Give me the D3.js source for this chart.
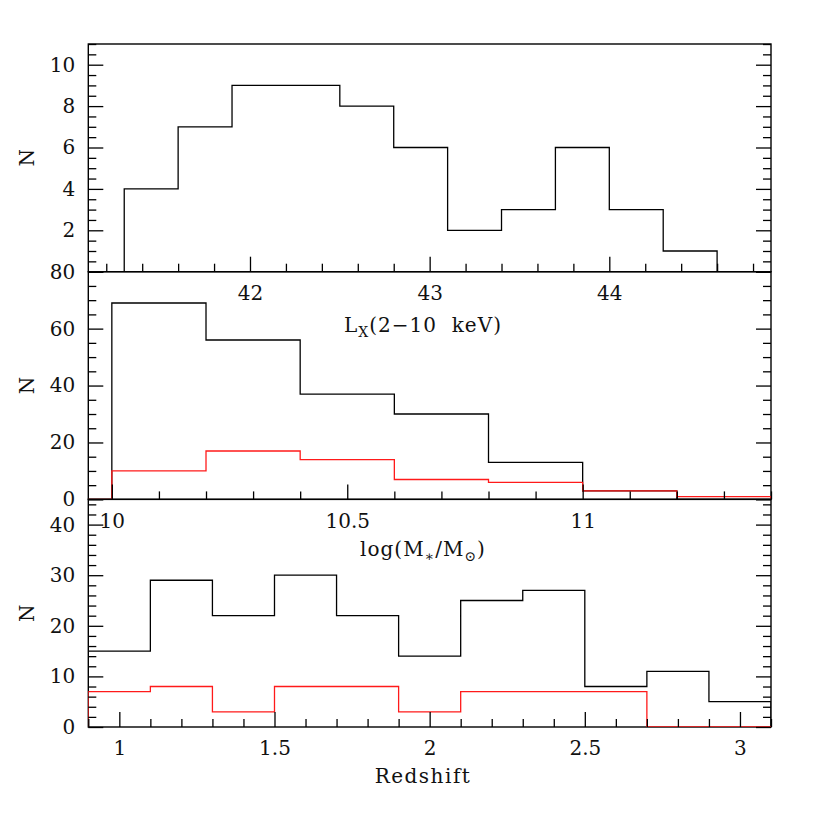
<!DOCTYPE html>
<html><head><meta charset="utf-8">
<script src="https://cdn.jsdelivr.net/npm/d3@7"></script>
<style>
html,body{margin:0;padding:0;background:#fff;}
text{font-family:"DejaVu Serif","Liberation Serif",serif;fill:#111;}
</style></head>
<body><svg id="c" width="814" height="814"></svg>
<script>
// ---- data ----
const lxEdges = [41.3,41.6,41.9,42.2,42.5,42.8,43.1,43.4,43.7,44.0,44.3,44.6];
const lxCounts = [4,7,9,9,8,6,2,3,6,3,1];
const lxTicks = [42,43,44];
const lxLabels = ["42","43","44"];

const massEdges = [9.8,10.0,10.2,10.4,10.6,10.8,11.0,11.2,11.4];
const massAll = [0,69,56,37,30,13,3,0];
const massRed = [0,10,17,14,7,6,3,1];
const massTicks = [10,10.5,11];
const massLabels = ["10","10.5","11"];

const zEdges = [0.9,1.1,1.3,1.5,1.7,1.9,2.1,2.3,2.5,2.7,2.9,3.1];
const zAll = [15,29,22,30,22,14,25,27,8,11,5];
const zRed = [7,8,3,8,8,3,7,7,7,0,0];
const zTicks = [1,1.5,2,2.5,3];
const zLabels = ["1","1.5","2","2.5","3"];

// top panel's "0" coincides with the middle panel's "80" (shows as "80")
const nTicksTop = [0,2,4,6,8,10];
const nLabelsTop = ["","2","4","6","8","10"];
const nTicksMid = [0,20,40,60,80];
const nLabelsMid = ["0","20","40","60","80"];
const nTicksBot = [0,10,20,30,40];
const nLabelsBot = ["0","10","20","30","40"];

// ---- layout ----
const svg = d3.select("#c");
svg.append("rect").attr("width",814).attr("height",814).attr("fill","#fff");
const L = 88.3, R = 771, PH = 227.7;
const tops = [44, 271.7, 499.3];

const panels = [
  {top:tops[0], xd:[41.1,44.9], yd:[0,11], edges:lxEdges, series:[{v:lxCounts,c:"#000"}],
   xt:lxTicks, xl:lxLabels, xminor:0.2, yt:nTicksTop, yl:nLabelsTop, yminor:0.5, title:"lx"},
  {top:tops[1], xd:[9.95,11.4], yd:[0,80], edges:massEdges, series:[{v:massAll,c:"#000"},{v:massRed,c:"#ff1a1a"}],
   xt:massTicks, xl:massLabels, xminor:0.1, yt:nTicksMid, yl:nLabelsMid, yminor:5, title:"mass"},
  {top:tops[2], xd:[0.9,3.1], yd:[0,45], edges:zEdges, series:[{v:zAll,c:"#000"},{v:zRed,c:"#ff1a1a"}],
   xt:zTicks, xl:zLabels, xminor:0.1, yt:nTicksBot, yl:nLabelsBot, yminor:2, title:"z"}
];

panels.forEach((p,i)=>{
  const x = d3.scaleLinear().domain(p.xd).range([L,R]);
  const y = d3.scaleLinear().domain(p.yd).range([p.top+PH,p.top]);
  const g = svg.append("g");
  const cid = "clip"+i;
  svg.append("clipPath").attr("id",cid).append("rect")
    .attr("x",L).attr("y",p.top-2).attr("width",R-L).attr("height",PH+2);

  // frame
  g.append("rect").attr("x",L).attr("y",p.top).attr("width",R-L).attr("height",PH)
    .attr("fill","none").attr("stroke","#000").attr("stroke-width",1.4);

  // histograms
  const line = d3.line().x(d=>x(d[0])).y(d=>y(d[1]));
  p.series.forEach(s=>{
    const pts=[[p.edges[0],0]];
    s.v.forEach((v,k)=>{pts.push([p.edges[k],v]);pts.push([p.edges[k+1],v]);});
    pts.push([p.edges[p.edges.length-1],0]);
    g.append("path").attr("d",line(pts)).attr("fill","none")
      .attr("stroke",s.c).attr("stroke-width",1.3).attr("clip-path","url(#"+cid+")");
  });

  const eps=1e-9;
  const xminor = d3.range(Math.ceil(p.xd[0]/p.xminor-eps)*p.xminor, p.xd[1]+eps, p.xminor)
     .filter(v=>!p.xt.some(t=>Math.abs(t-v)<1e-6));
  const yminor = d3.range(p.yd[0], p.yd[1]+eps, p.yminor)
     .filter(v=>!p.yt.some(t=>Math.abs(t-v)<1e-6));

  // bottom ticks
  const bot = p.top+PH;
  g.append("g").attr("transform",`translate(0,${bot})`)
    .call(d3.axisBottom(x).tickValues(xminor).tickSize(-8).tickFormat(""))
    .call(a=>a.select(".domain").remove()).selectAll("line").attr("stroke-width",1.3);
  g.append("g").attr("transform",`translate(0,${bot})`)
    .call(d3.axisBottom(x).tickValues(p.xt).tickSize(-15).tickPadding(14)
      .tickFormat((d,k)=>p.xl[k]))
    .call(a=>a.select(".domain").remove())
    .call(a=>a.selectAll("line").attr("stroke-width",1.3))
    .call(a=>a.selectAll("text").attr("font-size",20).attr("fill","#111")
      .style("font-family",'"DejaVu Serif",serif'));

  // left ticks
  g.append("g").attr("transform",`translate(${L},0)`)
    .call(d3.axisLeft(y).tickValues(yminor).tickSize(-8).tickFormat(""))
    .call(a=>a.select(".domain").remove()).selectAll("line").attr("stroke-width",1.3);
  g.append("g").attr("transform",`translate(${L},0)`)
    .call(d3.axisLeft(y).tickValues(p.yt).tickSize(-15).tickPadding(13).tickFormat((d,k)=>p.yl[k]))
    .call(a=>a.select(".domain").remove())
    .call(a=>a.selectAll("line").attr("stroke-width",1.3))
    .call(a=>a.selectAll("text").attr("font-size",20).attr("fill","#111")
      .style("font-family",'"DejaVu Serif",serif'))
    .call(a=>a.selectAll("text").filter(function(){return this.textContent==="";}).remove());
  // right ticks
  g.append("g").attr("transform",`translate(${R},0)`)
    .call(d3.axisRight(y).tickValues(yminor).tickSize(-8).tickFormat(""))
    .call(a=>a.select(".domain").remove()).selectAll("line").attr("stroke-width",1.3);
  g.append("g").attr("transform",`translate(${R},0)`)
    .call(d3.axisRight(y).tickValues(p.yt).tickSize(-15).tickFormat(""))
    .call(a=>a.select(".domain").remove()).selectAll("line").attr("stroke-width",1.3);

  // N label
  svg.append("text").attr("transform",`translate(34,${p.top+PH/2}) rotate(-90)`)
    .attr("text-anchor","middle").attr("font-size",20).text("N");

  // x titles
  const tx = 423;
  if(p.title==="lx"){
    const t = svg.append("text").attr("x",tx).attr("y",bot+60).attr("text-anchor","middle")
      .attr("font-size",20).attr("letter-spacing",1);
    t.append("tspan").text("L");
    t.append("tspan").attr("font-size",14).attr("dy",5).text("X");
    t.append("tspan").attr("dy",-5).text("(2\u221210  keV)").attr("xml:space","preserve");
  } else if(p.title==="mass"){
    const t = svg.append("text").attr("x",tx).attr("y",bot+57).attr("text-anchor","middle")
      .attr("font-size",20).attr("letter-spacing",1);
    t.append("tspan").text("log(M");
    t.append("tspan").attr("font-size",14).attr("dy",5).text("\u2217");
    t.append("tspan").attr("dy",-5).text("/M");
    t.append("tspan").attr("font-size",14).attr("dy",5).text("\u2299");
    t.append("tspan").attr("dy",-5).text(")");
  } else {
    svg.append("text").attr("x",tx).attr("y",bot+56).attr("text-anchor","middle")
      .attr("font-size",20).attr("letter-spacing",1.5).text("Redshift");
  }
});
</script></body></html>
